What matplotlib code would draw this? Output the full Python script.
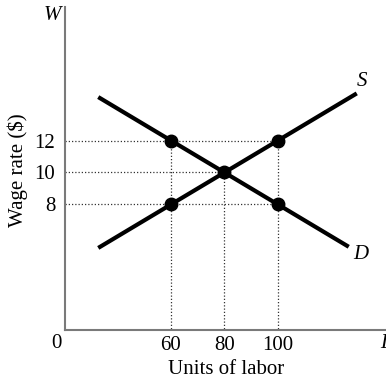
import numpy as np
import matplotlib.pyplot as plt

plt.rcParams['font.family'] = ['Liberation Serif', 'DejaVu Serif']

# curve end points (units of labor, wage)
supply_x = [33.5, 128.8]
supply_y = [5.35, 14.88]
demand_x = [33.5, 125.8]
demand_y = [14.65, 5.42]

# marked points
pts_x = [60, 100, 80, 60, 100]
pts_y = [12, 12, 10, 8, 8]

wage_ticks = [8, 10, 12]
labor_ticks = [60, 80, 100]

FS = 15
W, H = 386, 383

fig = plt.figure(figsize=(3.86, 3.83), dpi=100)
ax = fig.add_axes([65 / W, 53 / H, 321 / W, 323 / H])
ax.set_xlim(20.4, 140.4)
ax.set_ylim(0.15, 20.35)

dot = dict(ls=(0, (1, 1.6)), color='#333333', lw=0.9)
ax.plot([20.4, 100], [12, 12], **dot)
ax.plot([20.4, 80], [10, 10], **dot)
ax.plot([20.4, 100], [8, 8], **dot)
ax.plot([60, 60], [0, 12], **dot)
ax.plot([80, 80], [0, 10], **dot)
ax.plot([100, 100], [0, 12], **dot)

ax.plot(supply_x, supply_y, color='black', lw=3)
ax.plot(demand_x, demand_y, color='black', lw=3)
ax.plot(pts_x, pts_y, 'o', color='black', markersize=9)

ax.text(supply_x[1] + 0.6, supply_y[1] + 0.2, 'S', fontstyle='italic', fontsize=FS, ha='left', va='bottom')
ax.text(demand_x[1] + 2.5, demand_y[1] - 0.55, 'D', fontstyle='italic', fontsize=FS, ha='left', va='center')

for s in ['top', 'right']:
    ax.spines[s].set_visible(False)
for s in ['left', 'bottom']:
    ax.spines[s].set_color('#7a7a7a')
    ax.spines[s].set_linewidth(1.5)

ax.set_xticks(labor_ticks)
ax.set_xticklabels([str(v) for v in labor_ticks], fontsize=FS)
ax.set_yticks(wage_ticks)
ax.set_yticklabels([str(v) for v in wage_ticks], fontsize=FS)
ax.tick_params(length=0)
ax.tick_params(axis='x', pad=4)
ax.tick_params(axis='y', pad=7)

fig.text(56 / W, 1 - 343 / H, '0', fontsize=FS, ha='center', va='center')
fig.text(52 / W, 1 - 16 / H, 'W', fontsize=FS, fontstyle='italic', ha='center', va='center')
fig.text(380 / W, 1 - 343 / H, 'L', fontsize=FS, fontstyle='italic', ha='left', va='center')
fig.text(226 / W, 1 - 370 / H, 'Units of labor', fontsize=FS, ha='center', va='center')
fig.text(18 / W, 1 - 170 / H, 'Wage rate ($)', fontsize=FS, ha='center', va='center', rotation=90)

fig.savefig('out.png', dpi=100)
